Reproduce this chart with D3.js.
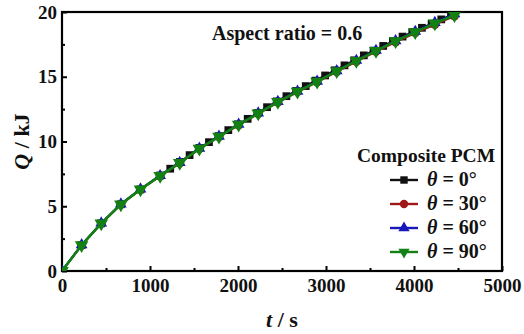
<!DOCTYPE html>
<html>
<head>
<meta charset="utf-8">
<script src="https://cdn.jsdelivr.net/npm/d3@7"></script>
<style>
  body { margin: 0; background: #fff; }
  svg { display: block; font-family: "Liberation Serif", "Times New Roman", serif; }
</style>
</head>
<body>
<svg id="chart" width="524" height="334"></svg>
<script>
// Time points (s) and heat stored Q (kJ)
const tMain = [0, 223, 446, 669, 892, 1115, 1338, 1561, 1784, 2007, 2230, 2453, 2676, 2899, 3122, 3345, 3568, 3791, 4014, 4237, 4460];
const q90 = [0, 2.0, 3.68, 5.15, 6.3, 7.35, 8.35, 9.45, 10.38, 11.3, 12.17, 13.05, 13.85, 14.62, 15.43, 16.23, 17.0, 17.75, 18.45, 19.12, 19.75];
const q60 = [0, 2.02, 3.7, 5.17, 6.32, 7.36, 8.37, 9.47, 10.4, 11.32, 12.2, 13.08, 13.88, 14.65, 15.46, 16.26, 17.03, 17.78, 18.5, 19.18, 19.85];
const q30 = [0, 2.0, 3.67, 5.14, 6.29, 7.33, 8.33, 9.43, 10.36, 11.27, 12.14, 13.02, 13.82, 14.58, 15.38, 16.17, 16.94, 17.68, 18.38, 19.02, 19.68];
// 0 deg case was saved with a finer step later on
const t0 = [0, 223, 446, 669, 892, 1115, 1230, 1340, 1450, 1560, 1670, 1780, 1890, 2000, 2110, 2220, 2330, 2440, 2550, 2660, 2770, 2880, 2990, 3100, 3210, 3320, 3430, 3540, 3650, 3760, 3870, 3980, 4090, 4200, 4310, 4420];
const q0 = [0, 2.0, 3.68, 5.15, 6.3, 7.38, 7.9, 8.42, 8.95, 9.5, 9.95, 10.42, 10.88, 11.33, 11.75, 12.2, 12.65, 13.1, 13.5, 13.9, 14.28, 14.7, 15.1, 15.5, 15.88, 16.27, 16.65, 17.02, 17.38, 17.75, 18.1, 18.45, 18.78, 19.1, 19.43, 19.75];

const seriesNames = ["θ = 0°", "θ = 30°", "θ = 60°", "θ = 90°"];
const seriesColors = ["#111111", "#a01818", "#1818b8", "#138013"];
const seriesSymbols = [d3.symbolSquare, d3.symbolCircle, d3.symbolTriangle, d3.symbolTriangle];
const seriesData = [
    t0.map((t, i) => ({ t: t, q: q0[i] })),
    tMain.map((t, i) => ({ t: t, q: q30[i] })),
    tMain.map((t, i) => ({ t: t, q: q60[i] })),
    tMain.map((t, i) => ({ t: t, q: q90[i] }))
];

const xTicks = [0, 1000, 2000, 3000, 4000, 5000];
const yTicks = [0, 5, 10, 15, 20];

const svg = d3.select("#chart");
const margin = { top: 12, right: 22, bottom: 63, left: 62 };
const width = 524 - margin.left - margin.right;
const height = 334 - margin.top - margin.bottom;
const g = svg.append("g").attr("transform", `translate(${margin.left},${margin.top})`);

const x = d3.scaleLinear().domain([0, 5000]).range([0, width]);
const y = d3.scaleLinear().domain([0, 20]).range([height, 0]);

// clip so the line ends at the frame
svg.append("defs").append("clipPath").attr("id", "clip")
    .append("rect").attr("x", 0).attr("y", 0).attr("width", width).attr("height", height);

// Axes (ticks pointing inward)
const xAxis = g.append("g").attr("transform", `translate(0,${height})`)
    .call(d3.axisBottom(x).tickValues(xTicks).tickSizeInner(-5).tickSizeOuter(0).tickPadding(9).tickFormat(d3.format("d")));
const xMinor = g.append("g").attr("transform", `translate(0,${height})`)
    .call(d3.axisBottom(x).tickValues([500, 1500, 2500, 3500, 4500]).tickSize(-3).tickFormat(""));
const yAxis = g.append("g")
    .call(d3.axisLeft(y).tickValues(yTicks).tickSizeInner(-5).tickSizeOuter(0).tickPadding(5));
const yMinor = g.append("g")
    .call(d3.axisLeft(y).tickValues([2.5, 7.5, 12.5, 17.5]).tickSize(-3).tickFormat(""));

[xAxis, xMinor, yAxis, yMinor].forEach(a => {
    a.select(".domain").remove();
    a.selectAll(".tick line").attr("stroke", "#000").attr("stroke-width", 2);
});
[xAxis, yAxis].forEach(a => {
    a.selectAll(".tick text")
        .attr("fill", "#111")
        .style("font-family", "Liberation Serif, serif")
        .style("font-size", "19px")
        .style("font-weight", "bold");
});
xAxis.selectAll(".tick text").attr("y", 8);

// Frame
g.append("rect")
    .attr("width", width).attr("height", height)
    .attr("fill", "none").attr("stroke", "#000").attr("stroke-width", 2.2);

// Lines and markers
const line = d3.line().x(d => x(d.t)).y(d => y(d.q));
const plot = g.append("g").attr("clip-path", "url(#clip)");

seriesData.forEach((data, k) => {
    plot.append("path")
        .datum(data)
        .attr("d", line)
        .attr("fill", "none")
        .attr("stroke", seriesColors[k])
        .attr("stroke-width", k === 3 ? 2.6 : 2);

    const sym = d3.symbol().type(seriesSymbols[k]).size(k === 3 ? 80 : 60);
    plot.selectAll(".m" + k)
        .data(data)
        .join("path")
        .attr("class", "m" + k)
        .attr("d", sym)
        .attr("transform", d => `translate(${x(d.t)},${y(d.q)})` + (k === 3 ? " rotate(180)" : ""))
        .attr("fill", seriesColors[k]);
});

// Annotation
g.append("text")
    .attr("x", 150).attr("y", 28)
    .style("font-size", "20px").style("font-weight", "bold")
    .attr("fill", "#111")
    .text("Aspect ratio = 0.6");

// Legend
const legend = g.append("g").attr("transform", "translate(295,150)");
legend.append("text")
    .attr("x", 0).attr("y", 0)
    .style("font-size", "19.5px").style("font-weight", "bold")
    .attr("fill", "#111")
    .text("Composite PCM");

seriesNames.forEach((name, k) => {
    const row = legend.append("g").attr("transform", `translate(0,${18 + k * 24})`);
    row.append("line")
        .attr("x1", 33).attr("x2", 61).attr("y1", 0).attr("y2", 0)
        .attr("stroke", seriesColors[k]).attr("stroke-width", 2.4);
    row.append("path")
        .attr("d", d3.symbol().type(seriesSymbols[k]).size(55))
        .attr("transform", "translate(47,0)" + (k === 3 ? " rotate(180)" : ""))
        .attr("fill", seriesColors[k]);
    const txt = row.append("text")
        .attr("x", 70).attr("y", 6)
        .style("font-size", "20px").style("font-weight", "bold")
        .attr("fill", "#111");
    txt.append("tspan").style("font-style", "italic").text("θ");
    txt.append("tspan").text(name.slice(1));
});

// Axis titles
svg.append("text")
    .attr("x", margin.left + width / 2).attr("y", 327)
    .attr("text-anchor", "middle")
    .style("font-size", "22px").style("font-weight", "bold")
    .attr("fill", "#111")
    .call(t => {
        t.append("tspan").style("font-style", "italic").text("t");
        t.append("tspan").text(" / s");
    });

svg.append("text")
    .attr("transform", `translate(29,${margin.top + height / 2}) rotate(-90)`)
    .attr("text-anchor", "middle")
    .style("font-size", "22px").style("font-weight", "bold")
    .attr("fill", "#111")
    .call(t => {
        t.append("tspan").style("font-style", "italic").text("Q");
        t.append("tspan").text(" / kJ");
    });
</script>
</body>
</html>
